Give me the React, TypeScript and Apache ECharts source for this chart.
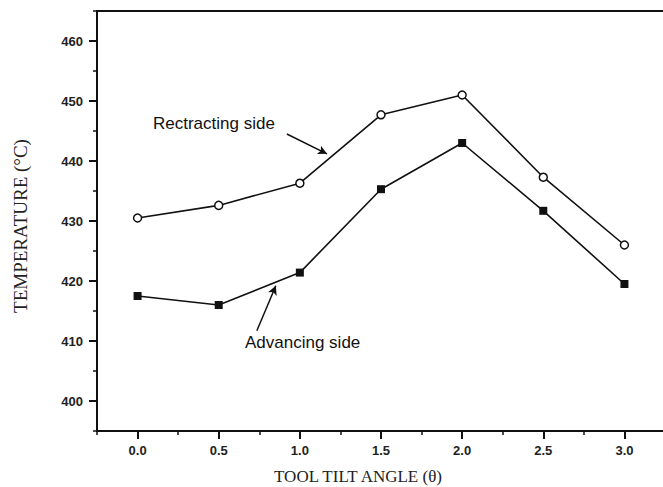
import React, { useEffect, useRef } from "react";
import * as echarts from "echarts";

const tiltAngles = [0, 0.5, 1.0, 1.5, 2.0, 2.5, 3.0];
const retreatingTemps = [430.5, 432.6, 436.3, 447.7, 451.0, 437.3, 426.0];
const advancingTemps = [417.5, 416.0, 421.4, 435.3, 443.0, 431.7, 419.5];
const xMajorTicks = [0, 0.5, 1.0, 1.5, 2.0, 2.5, 3.0];
const yMajorTicks = [400, 410, 420, 430, 440, 450, 460];
const yMinorTicks = [395, 405, 415, 425, 435, 445, 455, 465];
const retreatingArrow = [[0.92, 444.5], [1.167, 441.2]];
const advancingArrow = [[0.735, 411.7], [0.852, 419.2]];
const xAxisTitle = "TOOL TILT ANGLE (θ)";
const yAxisTitle = "TEMPERATURE (°C)";

export default function App() {
  const ref = useRef<HTMLDivElement>(null);
  useEffect(() => {
    if (!ref.current) return;
    const chart = echarts.init(ref.current, null, { renderer: "svg" });
    const axisLine = { show: true, onZero: false, lineStyle: { color: "#111", width: 2 } };
    const labelFont = { fontFamily: "Liberation Sans, Arial, sans-serif", fontWeight: "bold" as const, fontSize: 13, color: "#222" };
    const serif = "Liberation Serif, Times New Roman, serif";
    chart.setOption({
      animation: false,
      backgroundColor: "#fff",
      grid: { left: 97, top: 11, width: 568, height: 420, containLabel: false },
      xAxis: [
        {
          type: "value",
          min: -0.25,
          max: 3.25,
          position: "bottom",
          axisLine,
          axisTick: { show: true, customValues: xMajorTicks, length: 8, inside: false, lineStyle: { color: "#111", width: 2 } },
          axisLabel: { show: true, customValues: xMajorTicks, margin: 13, formatter: (v: number) => v.toFixed(1), ...labelFont },
          splitLine: { show: false },
        },
        {
          type: "value",
          min: -0.25,
          max: 3.25,
          interval: 0.25,
          position: "bottom",
          axisLine: { show: false, onZero: false },
          axisTick: { show: true, length: 4, lineStyle: { color: "#111", width: 1.5 } },
          axisLabel: { show: false },
          splitLine: { show: false },
        },
        {
          type: "value",
          min: -0.25,
          max: 3.25,
          position: "top",
          axisLine,
          axisTick: { show: false },
          axisLabel: { show: false },
          splitLine: { show: false },
        },
      ],
      yAxis: [
        {
          type: "value",
          min: 395,
          max: 465,
          position: "left",
          axisLine,
          axisTick: { show: true, customValues: yMajorTicks, length: 8, lineStyle: { color: "#111", width: 2 } },
          axisLabel: { show: true, customValues: yMajorTicks, margin: 14, ...labelFont },
          splitLine: { show: false },
        },
        {
          type: "value",
          min: 395,
          max: 465,
          position: "left",
          axisLine: { show: false, onZero: false },
          axisTick: { show: true, customValues: yMinorTicks, length: 4, lineStyle: { color: "#111", width: 1.5 } },
          axisLabel: { show: false },
          splitLine: { show: false },
        },
      ],
      series: [
        {
          name: "Rectracting side",
          type: "line",
          data: tiltAngles.map((x, i) => [x, retreatingTemps[i]]),
          symbol: "circle",
          symbolSize: 8,
          lineStyle: { color: "#111", width: 1.6 },
          itemStyle: { color: "#fff", borderColor: "#111", borderWidth: 1.5 },
          markLine: {
            silent: true,
            symbol: ["none", "arrow"],
            symbolSize: [7, 9],
            label: { show: false },
            lineStyle: { color: "#111", width: 1.5, type: "solid" },
            data: [[{ coord: retreatingArrow[0] }, { coord: retreatingArrow[1] }]],
          },
        },
        {
          name: "Advancing side",
          type: "line",
          data: tiltAngles.map((x, i) => [x, advancingTemps[i]]),
          symbol: "rect",
          symbolSize: 8,
          lineStyle: { color: "#111", width: 1.6 },
          itemStyle: { color: "#111" },
          markLine: {
            silent: true,
            symbol: ["none", "arrow"],
            symbolSize: [7, 9],
            label: { show: false },
            lineStyle: { color: "#111", width: 1.5, type: "solid" },
            data: [[{ coord: advancingArrow[0] }, { coord: advancingArrow[1] }]],
          },
        },
      ],
      graphic: [
        {
          type: "text",
          x: 153,
          y: 123,
          style: { text: "Rectracting side", fontFamily: "Liberation Sans, Arial, sans-serif", fontSize: 17, fill: "#111", verticalAlign: "middle" },
        },
        {
          type: "text",
          x: 245,
          y: 342,
          style: { text: "Advancing side", fontFamily: "Liberation Sans, Arial, sans-serif", fontSize: 17, fill: "#111", verticalAlign: "middle" },
        },
        {
          type: "text",
          x: 358,
          y: 476,
          style: { text: xAxisTitle, fontFamily: serif, fontSize: 17, fill: "#222", align: "center", verticalAlign: "middle" },
        },
        {
          type: "text",
          x: 20,
          y: 226,
          rotation: Math.PI / 2,
          style: { text: yAxisTitle, fontFamily: serif, fontSize: 19, fill: "#222", align: "center", verticalAlign: "middle" },
        },
      ],
    });
    return () => chart.dispose();
  }, []);
  return <div ref={ref} style={{ position: "fixed", left: 0, top: 0, width: 670, height: 487 }} />;
}
